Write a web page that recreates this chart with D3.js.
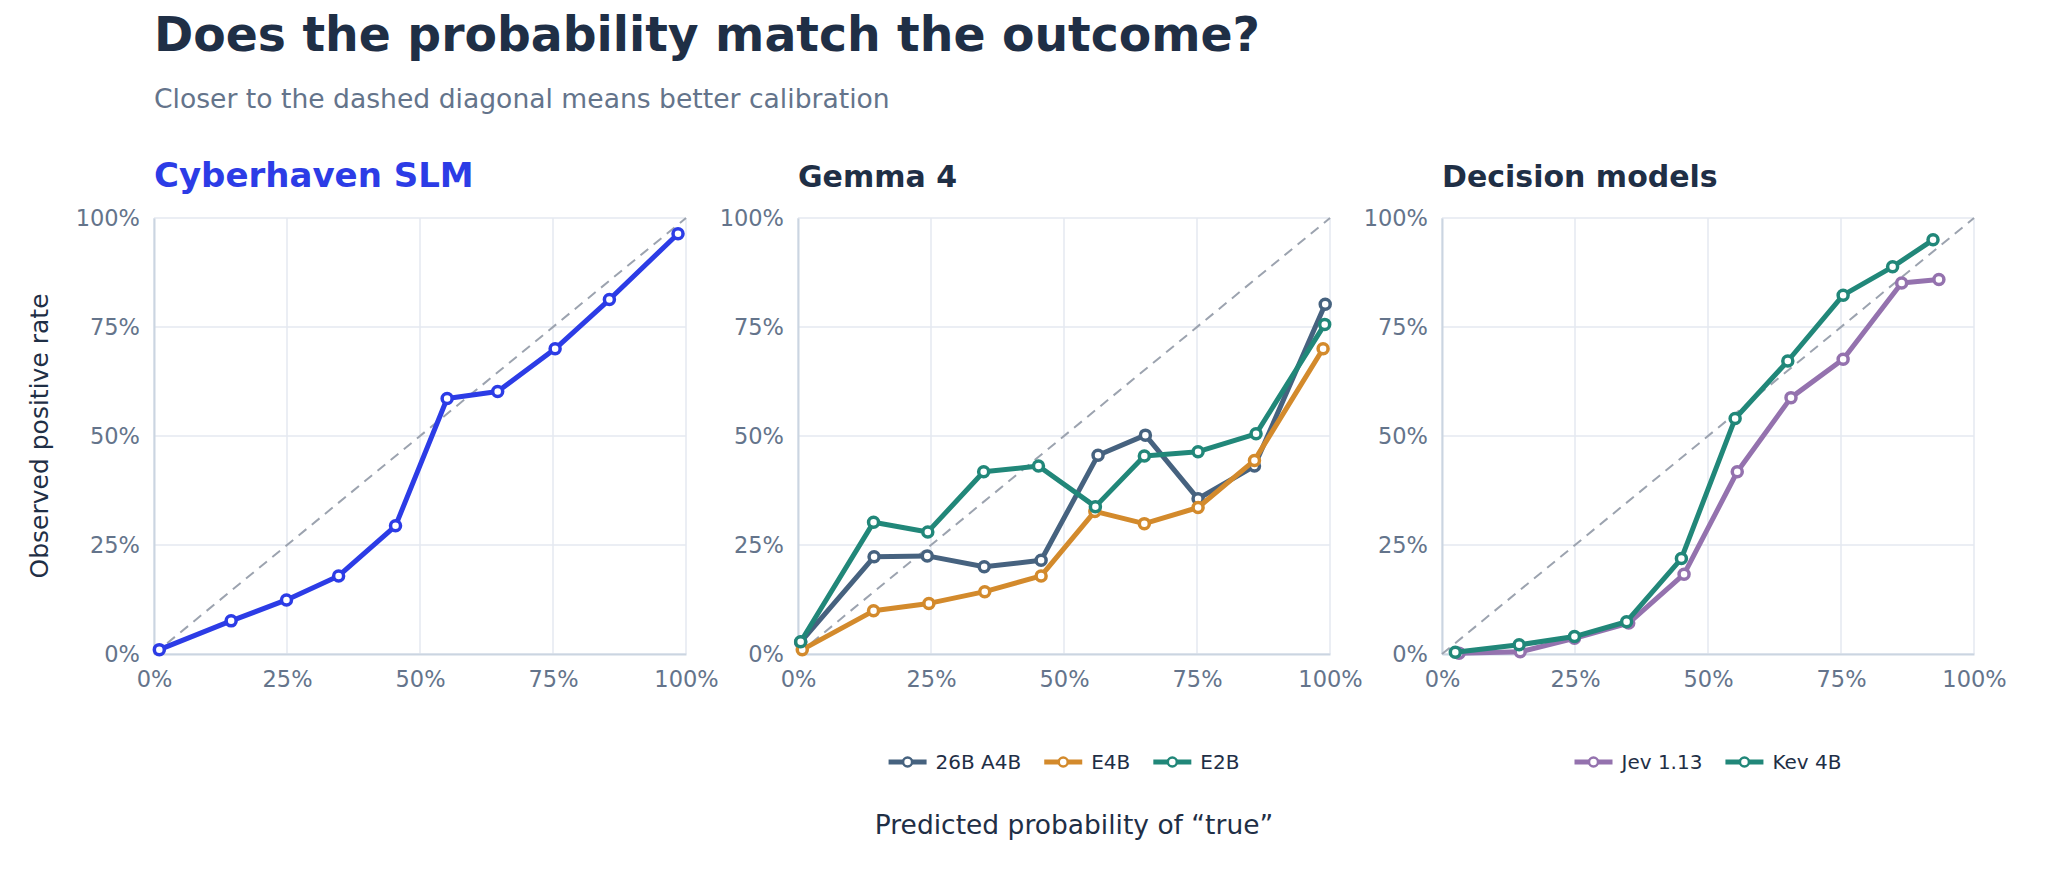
<!DOCTYPE html>
<html>
<head>
<meta charset="utf-8">
<script src="https://cdn.jsdelivr.net/npm/d3@7"></script>
<style>
  body { margin: 0; background: #fff; }
  svg { font-family: "DejaVu Sans", sans-serif; display: block; }
</style>
</head>
<body>
<div id="chart"></div>
<script>
// ---- data ----
const ticks = [0, 0.25, 0.5, 0.75, 1];

const slmX = [0.01, 0.145, 0.249, 0.347, 0.454, 0.551, 0.646, 0.754, 0.856, 0.985];
const slmY = [0.01, 0.076, 0.124, 0.179, 0.294, 0.586, 0.602, 0.700, 0.813, 0.964];

const gemma26bX = [0.005, 0.143, 0.243, 0.350, 0.457, 0.564, 0.653, 0.752, 0.858, 0.991];
const gemma26bY = [0.027, 0.223, 0.225, 0.200, 0.215, 0.456, 0.502, 0.356, 0.431, 0.802];
const gemmaE4bX = [0.008, 0.142, 0.246, 0.351, 0.457, 0.558, 0.651, 0.752, 0.858, 0.987];
const gemmaE4bY = [0.010, 0.099, 0.116, 0.143, 0.179, 0.327, 0.299, 0.336, 0.444, 0.700];
const gemmaE2bX = [0.005, 0.142, 0.244, 0.349, 0.452, 0.559, 0.651, 0.752, 0.861, 0.990];
const gemmaE2bY = [0.028, 0.302, 0.280, 0.418, 0.431, 0.338, 0.454, 0.464, 0.505, 0.756];

const jevX = [0.032, 0.147, 0.249, 0.351, 0.455, 0.555, 0.656, 0.754, 0.864, 0.934];
const jevY = [0.002, 0.005, 0.036, 0.071, 0.183, 0.418, 0.588, 0.676, 0.851, 0.859];
const kevX = [0.025, 0.145, 0.249, 0.347, 0.450, 0.551, 0.650, 0.754, 0.847, 0.923];
const kevY = [0.004, 0.021, 0.040, 0.074, 0.219, 0.540, 0.672, 0.823, 0.888, 0.950];

const zip = (xs, ys) => xs.map((x, i) => [x, ys[i]]);

const panels = [
  {title: 'Cyberhaven SLM', titleColor: '#2c3ce6', titleSize: 34, legend: false,
   series: [{name: 'Cyberhaven SLM', color: '#2c3ce6', pts: zip(slmX, slmY)}]},
  {title: 'Gemma 4', titleColor: '#1f2f46', titleSize: 30, legend: true,
   series: [
     {name: '26B A4B', color: '#46627f', pts: zip(gemma26bX, gemma26bY)},
     {name: 'E4B', color: '#d38a2c', pts: zip(gemmaE4bX, gemmaE4bY)},
     {name: 'E2B', color: '#218779', pts: zip(gemmaE2bX, gemmaE2bY)}]},
  {title: 'Decision models', titleColor: '#1f2f46', titleSize: 30, legend: true,
   series: [
     {name: 'Jev 1.13', color: '#9472ae', pts: zip(jevX, jevY)},
     {name: 'Kev 4B', color: '#218779', pts: zip(kevX, kevY)}]}
];

// ---- layout ----
const W = 2048, H = 874;
let margin = {left: 154, top: 218},
  pw = 532, ph = 436, gap = 112;
const dark = '#1f2f46', muted = '#64748b';

let sx = d3.scaleLinear().domain([0, 1]).range([0, pw]);
let sy = d3.scaleLinear().domain([0, 1]).range([ph, 0]);
let fmt = d3.format('.0%');
let line = d3.line().x(d => sx(d[0])).y(d => sy(d[1]));

const svg = d3.select('#chart').append('svg')
  .attr('width', W).attr('height', H);

svg.append('text')
  .attr('x', margin.left).attr('y', 51)
  .attr('fill', dark)
  .style('font-size', '47.3px').style('font-weight', 'bold')
  .text('Does the probability match the outcome?');

svg.append('text')
  .attr('x', margin.left).attr('y', 108)
  .attr('fill', muted)
  .style('font-size', '26.6px')
  .text('Closer to the dashed diagonal means better calibration');

// y axis title
svg.append('text')
  .attr('transform', `translate(48,${margin.top + ph / 2}) rotate(-90)`)
  .attr('text-anchor', 'middle')
  .attr('fill', dark)
  .style('font-size', '25px')
  .text('Observed positive rate');

// x axis title
svg.append('text')
  .attr('x', 1074).attr('y', 834)
  .attr('text-anchor', 'middle')
  .attr('fill', dark)
  .style('font-size', '26.5px')
  .text('Predicted probability of \u201Ctrue\u201D');

panels.forEach((p, i) => {
  let g = svg.append('g')
    .attr('transform', `translate(${margin.left + i * (pw + gap)},${margin.top})`);

  g.append('text')
    .attr('x', 0).attr('y', -31)
    .attr('fill', p.titleColor)
    .style('font-size', p.titleSize + 'px').style('font-weight', 'bold')
    .text(p.title);

  // grid
  g.append('g').selectAll('line').data(ticks).enter()
    .append('line')
    .attr('x1', d => sx(d)).attr('x2', d => sx(d))
    .attr('y1', 0).attr('y2', ph)
    .attr('stroke', '#e5e9f0').attr('stroke-width', 1.5);
  g.append('g').selectAll('line').data(ticks).enter()
    .append('line')
    .attr('y1', d => sy(d)).attr('y2', d => sy(d))
    .attr('x1', 0).attr('x2', pw)
    .attr('stroke', '#e5e9f0').attr('stroke-width', 1.5);

  // axes
  let xa = g.append('g')
    .attr('transform', `translate(0,${ph})`)
    .call(d3.axisBottom(sx).tickValues(ticks).tickFormat(fmt).tickSize(0).tickPadding(17));
  let ya = g.append('g')
    .call(d3.axisLeft(sy).tickValues(ticks).tickFormat(fmt).tickSize(0).tickPadding(14));
  [xa, ya].forEach(a => {
    a.select('.domain').attr('stroke', '#cbd5e1').attr('stroke-width', 2);
    a.selectAll('text')
      .attr('fill', muted)
      .style('font-size', '22.5px')
      .style('font-family', '"DejaVu Sans", sans-serif');
  });

  // diagonal
  g.append('line')
    .attr('x1', sx(0)).attr('y1', sy(0))
    .attr('x2', sx(1)).attr('y2', sy(1))
    .attr('stroke', '#9ca3af').attr('stroke-width', 2)
    .attr('stroke-dasharray', '10,7');

  // series
  p.series.forEach(s => {
    g.append('path')
      .datum(s.pts)
      .attr('d', line)
      .attr('fill', 'none')
      .attr('stroke', s.color)
      .attr('stroke-width', 5)
      .attr('stroke-linejoin', 'round');
    g.append('g').selectAll('circle').data(s.pts).enter()
      .append('circle')
      .attr('cx', d => sx(d[0])).attr('cy', d => sy(d[1]))
      .attr('r', 5)
      .attr('fill', '#fff')
      .attr('stroke', s.color)
      .attr('stroke-width', 3.5);
  });

  // legend
  if (p.legend) {
    let ly = 762 - margin.top;
    let lg = g.append('g');
    let x = 0;
    p.series.forEach(s => {
      let item = lg.append('g').attr('transform', `translate(${x},0)`);
      item.append('line')
        .attr('x1', 0).attr('x2', 38)
        .attr('stroke', s.color).attr('stroke-width', 5);
      item.append('circle')
        .attr('cx', 19).attr('r', 4.5)
        .attr('fill', '#fff').attr('stroke', s.color).attr('stroke-width', 2.5);
      let t = item.append('text')
        .attr('x', 47).attr('dy', '0.35em')
        .attr('fill', dark)
        .style('font-size', '20px')
        .text(s.name);
      x += 47 + t.node().getComputedTextLength() + 23;
    });
    let total = x - 23;
    lg.attr('transform', `translate(${(pw - total) / 2},${ly})`);
  }
});
</script>
</body>
</html>
